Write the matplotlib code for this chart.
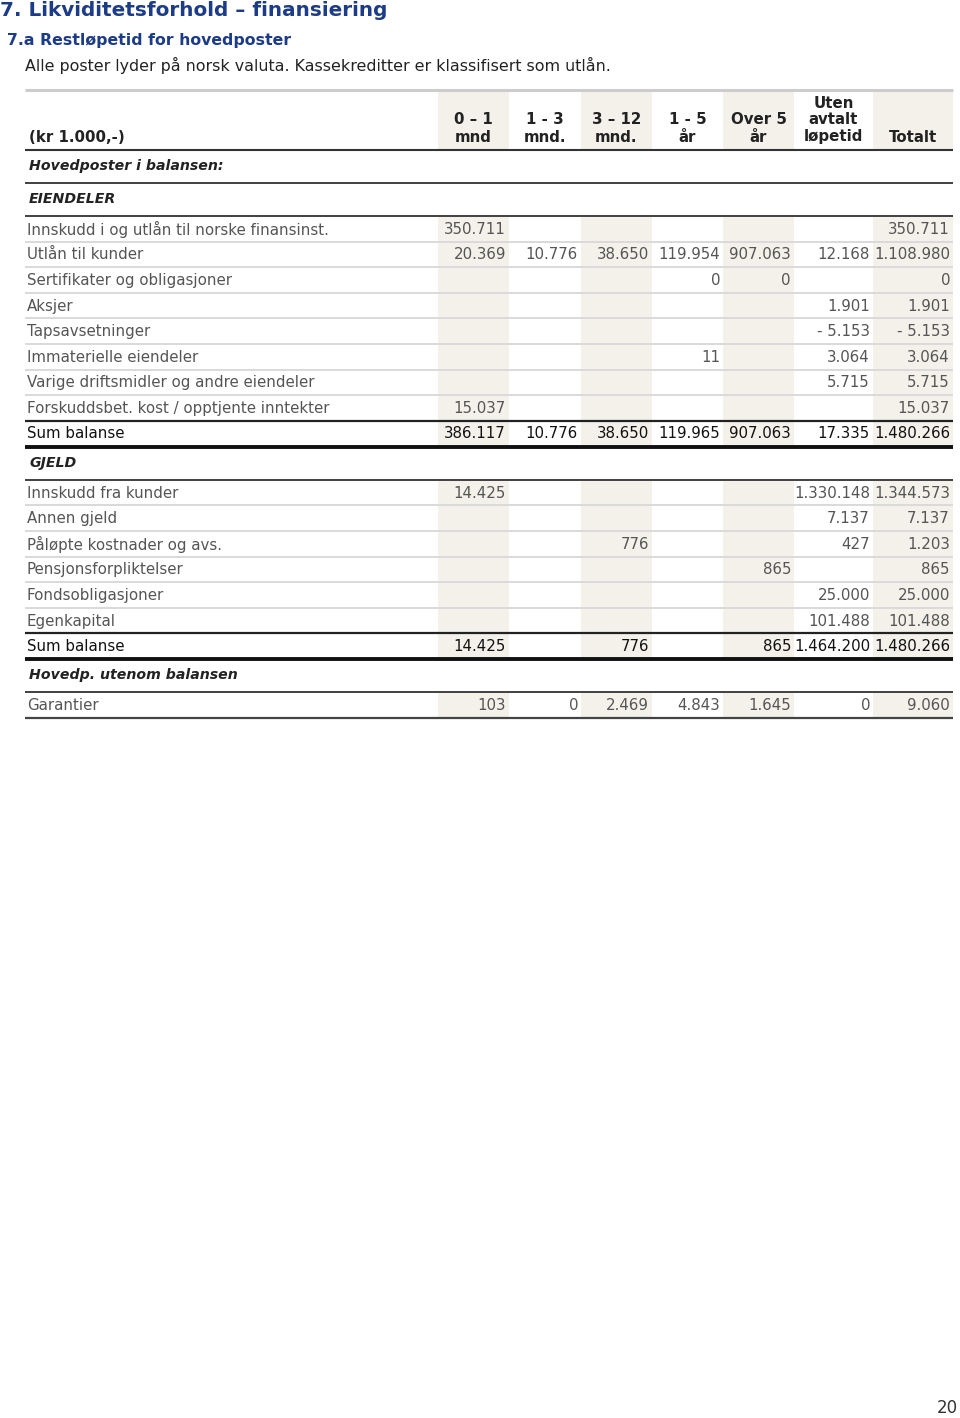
import matplotlib
matplotlib.use("Agg")
import matplotlib.pyplot as plt
from matplotlib.patches import Rectangle

# ---- data ----
col_headers = ["0 – 1\nmnd", "1 - 3\nmnd.", "3 – 12\nmnd.", "1 - 5\når",
               "Over 5\når", "Uten\navtalt\nløpetid", "Totalt"]

asset_labels = [
    "Innskudd i og utlån til norske finansinst.",
    "Utlån til kunder",
    "Sertifikater og obligasjoner",
    "Aksjer",
    "Tapsavsetninger",
    "Immaterielle eiendeler",
    "Varige driftsmidler og andre eiendeler",
    "Forskuddsbet. kost / opptjente inntekter",
]
asset_values = [
    [350711, None, None, None, None, None, 350711],
    [20369, 10776, 38650, 119954, 907063, 12168, 1108980],
    [None, None, None, 0, 0, None, 0],
    [None, None, None, None, None, 1901, 1901],
    [None, None, None, None, None, -5153, -5153],
    [None, None, None, 11, None, 3064, 3064],
    [None, None, None, None, None, 5715, 5715],
    [15037, None, None, None, None, None, 15037],
]
asset_sum = [386117, 10776, 38650, 119965, 907063, 17335, 1480266]

debt_labels = [
    "Innskudd fra kunder",
    "Annen gjeld",
    "Påløpte kostnader og avs.",
    "Pensjonsforpliktelser",
    "Fondsobligasjoner",
    "Egenkapital",
]
debt_values = [
    [14425, None, None, None, None, 1330148, 1344573],
    [None, None, None, None, None, 7137, 7137],
    [None, None, 776, None, None, 427, 1203],
    [None, None, None, None, 865, None, 865],
    [None, None, None, None, None, 25000, 25000],
    [None, None, None, None, None, 101488, 101488],
]
debt_sum = [14425, None, 776, None, 865, 1464200, 1480266]

off_labels = ["Garantier"]
off_values = [[103, 0, 2469, 4843, 1645, 0, 9060]]


def fmt(v):
    if v is None:
        return ""
    s = f"{abs(v):,}".replace(",", ".")
    return "- " + s if v < 0 else s


# ---- layout (pixel coords) ----
W, H = 960, 1418
X0, X1 = 25, 953
col_edges = [438, 509, 581, 652, 723, 794, 873, 953]
shaded = [0, 2, 4, 6]
SHADE = "#f3f1ea"
BLUE = "#1d3c87"
GREY_TXT = "#555555"
FS = 10.8
FS_HEAD = 10.8
FS_SEC = 10.2

fig = plt.figure(figsize=(W / 100, H / 100), dpi=100)
ax = fig.add_axes([0, 0, 1, 1])
ax.set_xlim(0, W)
ax.set_ylim(H, 0)
ax.axis("off")

ax.text(0, 10, "7. Likviditetsforhold – finansiering", fontsize=14.4,
        fontweight="bold", color=BLUE, va="center", ha="left")
ax.text(7, 40, "7.a Restløpetid for hovedposter", fontsize=11.3,
        fontweight="bold", color=BLUE, va="center", ha="left")
ax.text(25, 65, "Alle poster lyder på norsk valuta. Kassekreditter er klassifisert som utlån.",
        fontsize=11.4, color="#222222", va="center", ha="left")


def hline(y, color, lw):
    ax.plot([X0, X1], [y, y], color=color, lw=lw, solid_capstyle="butt")


def shade(y_top, y_bot):
    for c in shaded:
        ax.add_patch(Rectangle((col_edges[c], y_top), col_edges[c + 1] - col_edges[c],
                               y_bot - y_top, color=SHADE, lw=0, zorder=0))


# header
shade(91, 149)
hline(89.5, "#cccccc", 2.2)
ax.text(29, 137, "(kr 1.000,-)", fontsize=FS_HEAD, fontweight="bold",
        color="#222222", va="center", ha="left")
for i, h in enumerate(col_headers):
    xc = (col_edges[i] + col_edges[i + 1]) / 2
    lines = h.split("\n")
    for k, ln in enumerate(reversed(lines)):
        ax.text(xc, 137 - 17 * k, ln, fontsize=FS_HEAD, fontweight="bold",
                color="#222222", va="center", ha="center")
hline(150, "#333333", 1.5)

y = 150.0


def section(title):
    global y
    ax.text(29, y + 16, title, fontsize=FS_SEC, fontweight="bold",
            style="italic", color="#222222", va="center", ha="left")
    y += 33
    hline(y, "#404040", 1.4)


def data_rows(labels, values, last_color="#222222"):
    global y
    for i, (lab, vals) in enumerate(zip(labels, values)):
        top, bot = y, y + 25.6
        shade(top + 1, bot - 1)
        yc = (top + bot) / 2 + 0.5
        ax.text(27, yc, lab, fontsize=FS, color=GREY_TXT, va="center", ha="left")
        for c, v in enumerate(vals):
            ax.text(col_edges[c + 1] - 3, yc, fmt(v), fontsize=FS,
                    color=GREY_TXT, va="center", ha="right")
        y = bot
        if i == len(labels) - 1:
            hline(y, last_color, 1.6)
        else:
            hline(y, "#d0d0d0", 1.1)


def sum_row(vals):
    global y
    top, bot = y, y + 26
    shade(top + 1, bot - 2)
    yc = (top + bot) / 2
    ax.text(27, yc, "Sum balanse", fontsize=FS, color="#111111", va="center", ha="left")
    for c, v in enumerate(vals):
        ax.text(col_edges[c + 1] - 3, yc, fmt(v), fontsize=FS,
                color="#111111", va="center", ha="right")
    y = bot
    hline(y, "#111111", 2.8)


section("Hovedposter i balansen:")
section("EIENDELER")
data_rows(asset_labels, asset_values)
sum_row(asset_sum)
section("GJELD")
data_rows(debt_labels, debt_values)
sum_row(debt_sum)
section("Hovedp. utenom balansen")
data_rows(off_labels, off_values, last_color="#444444")

ax.text(958, 1408, "20", fontsize=12, color="#333333", va="center", ha="right")

fig.savefig("out.png", dpi=100)
